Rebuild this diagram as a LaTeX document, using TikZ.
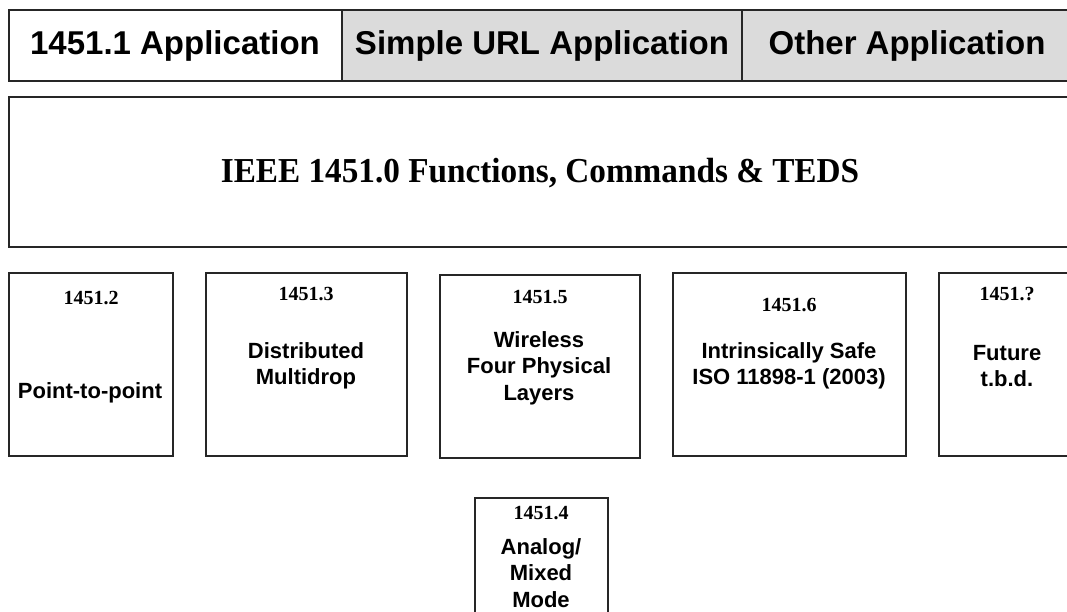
\documentclass[tikz,border=0pt]{standalone}
\usepackage{fontspec}
\setmainfont{Liberation Serif}
\setsansfont{Liberation Sans}
\tikzset{
  blk/.style={draw=black!85, line width=1.8pt},
  app/.style={font=\sffamily\bfseries\fontsize{33}{36}\selectfont},
  num/.style={font=\rmfamily\bfseries\fontsize{20}{24}\selectfont},
  lbl/.style={font=\sffamily\bfseries\fontsize{22}{26.5}\selectfont, align=center},
  title/.style={font=\rmfamily\bfseries\fontsize{35}{40}\selectfont, xscale=0.95}
}
\begin{document}
\begin{tikzpicture}[x=1pt,y=-1pt]
\useasboundingbox[fill=white] (0,0) rectangle (1067,611);
% top row
\draw[blk, fill=white] (9,10) rectangle (342,81);
\draw[blk, fill=black!14] (342,10) rectangle (742,81);
\draw[blk, fill=black!14] (742,10) rectangle (1075,81);
\node[app] (a1) at (175,46) {1451.1 Application};
\node[app] (a2) at (542,46) {Simple URL Application};
\node[app] (a3) at (907,46) {Other Application};
% middle
\draw[blk] (9,97) rectangle (1075,247);
\node[title] (ieee) at (540,173) {IEEE 1451.0 Functions, Commands \& TEDS};
% bottom boxes
\draw[blk] (9,273) rectangle (173,456);
\node[num] (n2) at (91,298) {1451.2};
\node[lbl] (t2) at (90,393) {Point-to-point};
\draw[blk] (206,273) rectangle (407,456);
\node[num] (n3) at (306,294) {1451.3};
\node[lbl] (t3) at (306,366) {Distributed\\Multidrop};
\draw[blk] (440,275) rectangle (640,458);
\node[num] (n5) at (540,297) {1451.5};
\node[lbl] (t5) at (539,368) {Wireless\\Four Physical\\Layers};
\draw[blk] (673,273) rectangle (906,456);
\node[num] (n6) at (789,305) {1451.6};
\node[lbl] (t6) at (789,366) {Intrinsically Safe\\ISO 11898-1 (2003)};
\draw[blk] (939,273) rectangle (1075,456);
\node[num] (n7) at (1007,294) {1451.?};
\node[lbl] (t7) at (1007,366) {Future\\t.b.d.};
\draw[blk] (475,498) rectangle (608,620);
\node[num] (n4) at (541,513) {1451.4};
\node[lbl] (t4) at (541,573) {Analog/\\Mixed\\Mode};
\end{tikzpicture}
\end{document}
